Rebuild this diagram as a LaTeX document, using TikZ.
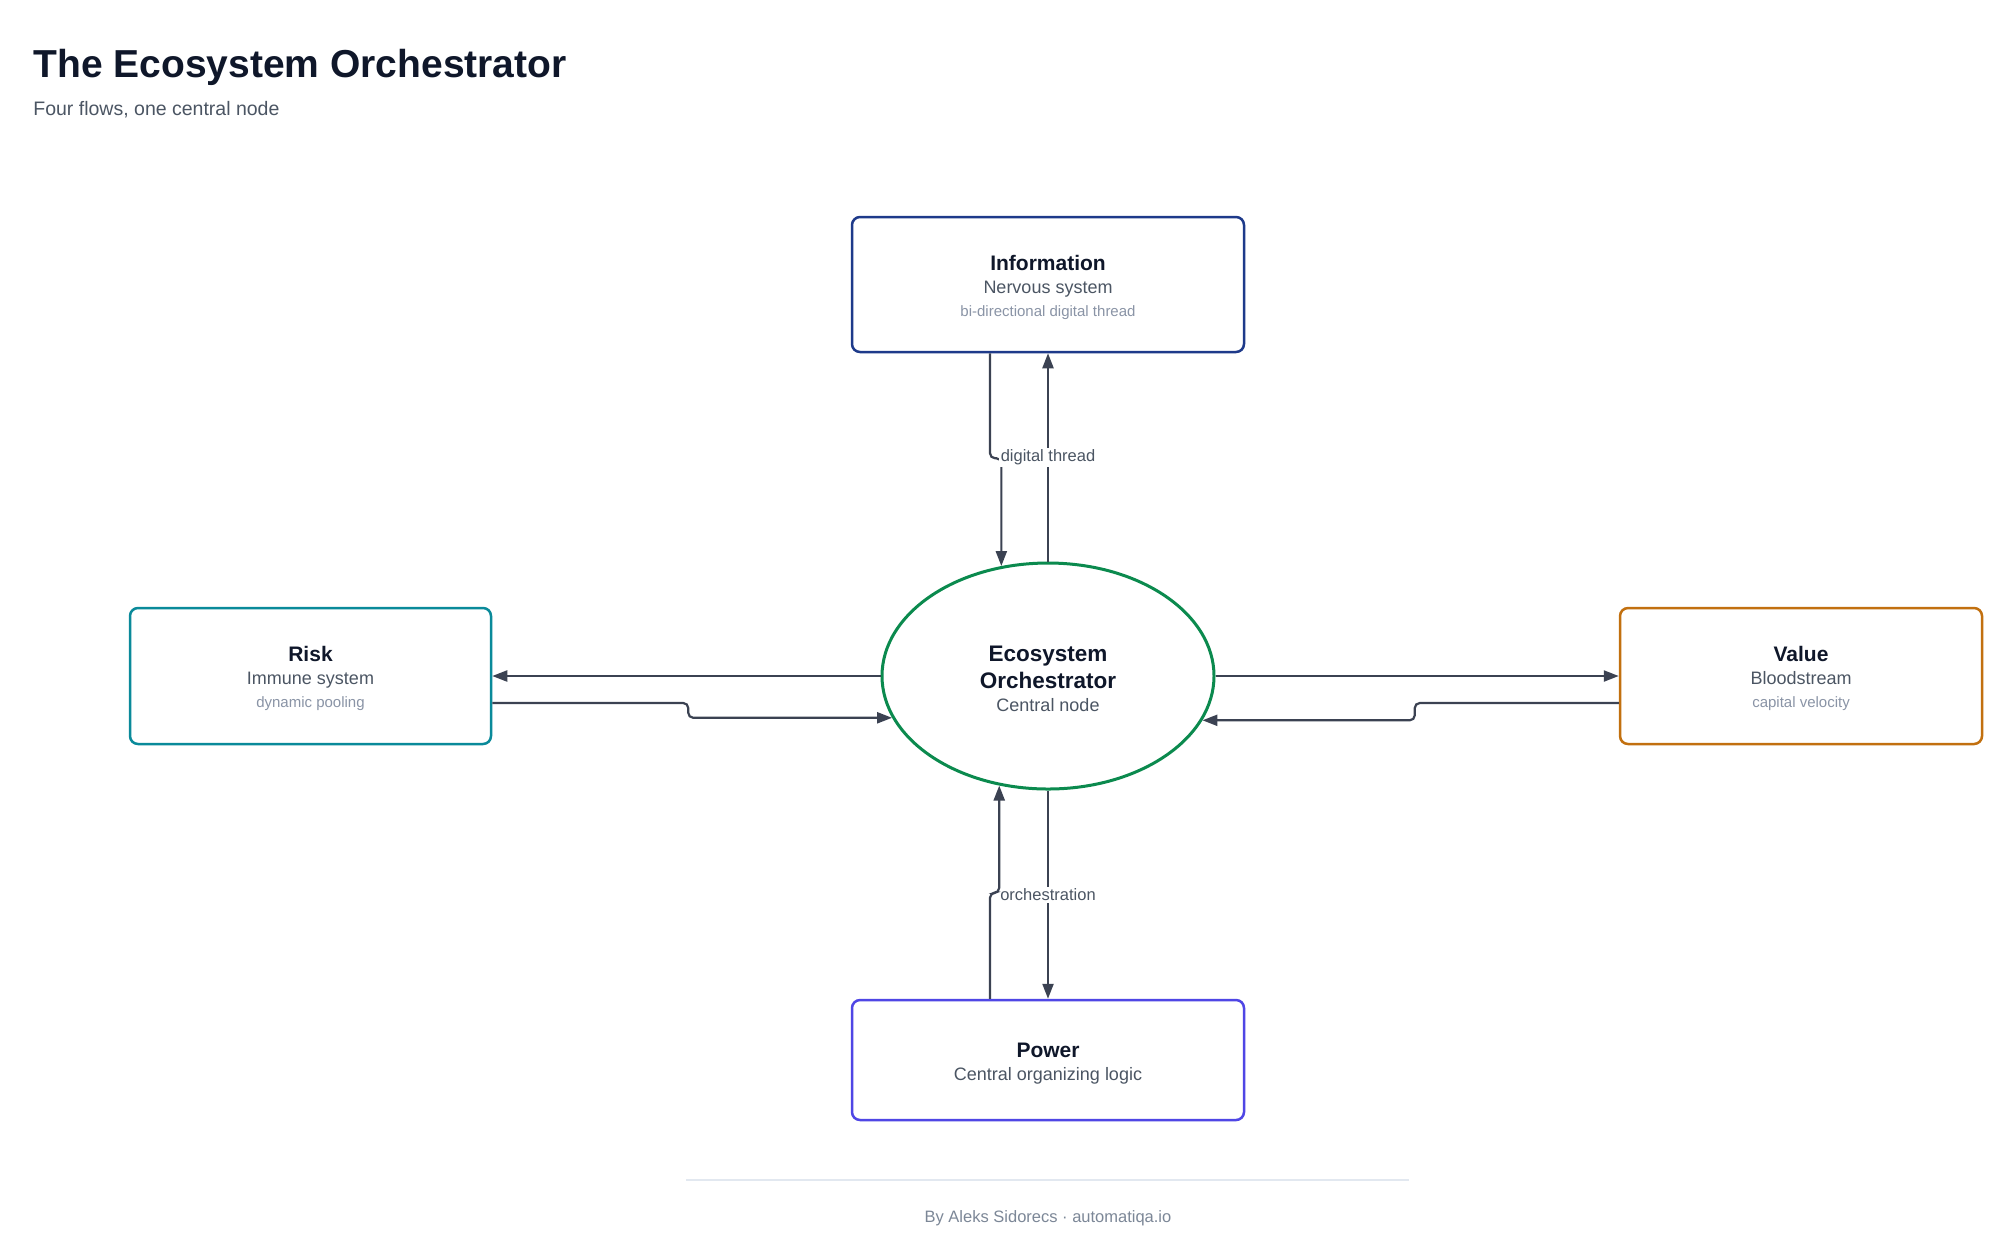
\documentclass[tikz,border=0pt]{standalone}
\usepackage{fontspec}
\setmainfont{Liberation Sans}
\usetikzlibrary{arrows.meta,shapes.geometric}
\definecolor{titlec}{HTML}{0F172A}
\definecolor{subc}{HTML}{4B5563}
\definecolor{faintc}{HTML}{8A94A6}
\definecolor{infoc}{HTML}{1E3A8A}
\definecolor{riskc}{HTML}{0A8A9A}
\definecolor{valuec}{HTML}{C2700F}
\definecolor{powerc}{HTML}{4F46E5}
\definecolor{orchc}{HTML}{0B8A4E}
\definecolor{arrowc}{HTML}{3B4252}
\definecolor{rulec}{HTML}{E2E8F0}
\definecolor{footc}{HTML}{7C8797}
\begin{document}
\begin{tikzpicture}[x=0.5pt,y=-0.5pt,
  box/.style={draw, rounded corners=4pt, line width=1.25pt, fill=white, inner sep=0pt,
    align=center, font=\fontsize{9}{11.5}\selectfont, text=subc},
  orchbox/.style={ellipse, draw=orchc, line width=1.5pt, fill=white, inner sep=0pt,
    minimum width=166pt, minimum height=113pt, align=center,
    font=\fontsize{9}{11.5}\selectfont, text=subc},
  flow/.style={draw=arrowc, line width=1.1pt, -{Triangle[length=7.5pt,width=5.5pt]}},
  jog/.style={flow, rounded corners=2.5pt},
  elabel/.style={fill=white, inner sep=1pt, font=\fontsize{8.25}{10}\selectfont, text=subc}
]
\useasboundingbox (0,0) rectangle (2000,1244);
\fill[white] (0,0) rectangle (2000,1244);

% title
\node[anchor=base west, inner sep=0pt, font=\fontsize{19.5}{23}\selectfont\bfseries, text=titlec] (title) at (33,77) {The Ecosystem Orchestrator};
\node[anchor=base west, inner sep=0pt, font=\fontsize{9.75}{12}\selectfont, text=subc] (subtitle) at (33,115) {Four flows, one central node};

% nodes
\node[box, draw=infoc, minimum width=196pt, minimum height=67.5pt] (info) at (1048,284.5)
  {\rule{0pt}{11pt}{\fontsize{10.5}{11.5}\selectfont\bfseries\color{titlec}Information}\\Nervous system\\{\fontsize{7.5}{11.5}\selectfont\color{faintc}bi-directional digital thread}};
\node[orchbox] (orch) at (1048,676)
  {\rule{0pt}{10.2pt}{\fontsize{11.25}{11.5}\selectfont\bfseries\color{titlec}Ecosystem}\\[2pt]{\fontsize{11.25}{11.5}\selectfont\bfseries\color{titlec}Orchestrator}\\Central node};
\node[box, draw=riskc, minimum width=180.5pt, minimum height=68pt] (risk) at (310.5,676)
  {\rule{0pt}{10.5pt}{\fontsize{10.5}{11.5}\selectfont\bfseries\color{titlec}Risk}\\Immune system\\{\fontsize{7.5}{11.5}\selectfont\color{faintc}dynamic pooling}};
\node[box, draw=valuec, minimum width=181pt, minimum height=68pt] (value) at (1801,676)
  {\rule{0pt}{10.5pt}{\fontsize{10.5}{11.5}\selectfont\bfseries\color{titlec}Value}\\Bloodstream\\{\fontsize{7.5}{11.5}\selectfont\color{faintc}capital velocity}};
\node[box, draw=powerc, minimum width=196pt, minimum height=60pt] (power) at (1048,1060)
  {\rule{0pt}{11pt}{\fontsize{10.5}{11.5}\selectfont\bfseries\color{titlec}Power}\\Central organizing logic};

% connectors: information
\draw[jog] ([xshift=-29pt]info.south) -- ++(0,105) -| (orch.113.7);
\draw[flow] (orch.north) -- node[elabel, pos=0.5] (lbl1) {digital thread} (info.south);
% risk
\draw[flow] (orch.west) -- (risk.east);
\draw[jog] ([yshift=-13.5pt]risk.east) -- ++(196,0) |- (orch.195.3);
% value
\draw[flow] (orch.east) -- (value.west);
\draw[jog] ([yshift=-13.5pt]value.west) -- ++(-204,0) |- (orch.344.7);
% power
\draw[flow] (orch.south) -- node[elabel, pos=0.5] (lbl2) {orchestration} (power.north);
\draw[jog] ([xshift=-29pt]power.north) -- ++(0,-106) -| (orch.246.3);

% footer
\coordinate (rl) at (686,1180);
\coordinate (rr) at (1409,1180);
\draw[rulec, line width=1pt] (rl) -- (rr);
\node[anchor=base, inner sep=0pt, font=\fontsize{8.25}{10}\selectfont, text=footc] (footer) at (1048,1222) {By Aleks Sidorecs · automatiqa.io};
\end{tikzpicture}
\end{document}
